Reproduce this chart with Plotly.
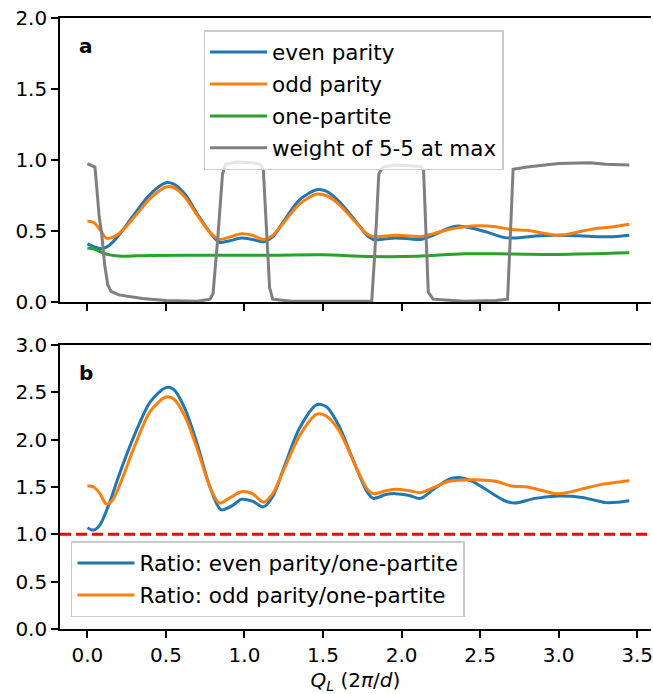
import plotly.graph_objects as go

# ---------------- data ----------------
q_even = [0.00, 0.04, 0.09, 0.14, 0.20, 0.30, 0.40, 0.50, 0.55, 0.62, 0.70, 0.78, 0.84, 0.90, 0.98, 1.05,
          1.12, 1.18, 1.25, 1.35, 1.46, 1.52, 1.60, 1.70, 1.78, 1.82, 1.90, 1.96, 2.05, 2.12, 2.20, 2.30,
          2.36, 2.45, 2.55, 2.65, 2.72, 2.85, 3.00, 3.15, 3.25, 3.35, 3.45]
even_parity = [0.41, 0.39, 0.375, 0.40, 0.47, 0.62, 0.76, 0.84, 0.83, 0.76, 0.62, 0.49, 0.42, 0.43, 0.45, 0.44,
               0.425, 0.46, 0.57, 0.72, 0.79, 0.78, 0.71, 0.58, 0.47, 0.44, 0.445, 0.45, 0.445, 0.44, 0.47, 0.52,
               0.535, 0.52, 0.49, 0.455, 0.45, 0.465, 0.47, 0.465, 0.46, 0.46, 0.47]

q_odd = [0.00, 0.04, 0.08, 0.12, 0.16, 0.22, 0.30, 0.40, 0.50, 0.55, 0.62, 0.70, 0.78, 0.84, 0.90, 0.98,
         1.05, 1.12, 1.18, 1.25, 1.35, 1.46, 1.52, 1.60, 1.70, 1.78, 1.82, 1.90, 1.96, 2.05, 2.12, 2.20,
         2.30, 2.40, 2.50, 2.60, 2.70, 2.80, 2.90, 2.98, 3.05, 3.15, 3.25, 3.35, 3.45]
odd_parity = [0.57, 0.56, 0.51, 0.45, 0.455, 0.50, 0.60, 0.73, 0.81, 0.805, 0.74, 0.61, 0.49, 0.44, 0.455, 0.48,
              0.47, 0.44, 0.47, 0.56, 0.69, 0.76, 0.75, 0.69, 0.57, 0.48, 0.46, 0.465, 0.47, 0.465, 0.46, 0.48,
              0.51, 0.53, 0.537, 0.53, 0.51, 0.505, 0.485, 0.47, 0.475, 0.50, 0.52, 0.53, 0.547]

q_one = [0.00, 0.05, 0.10, 0.15, 0.22, 0.40, 0.80, 1.20, 1.50, 1.80, 2.10, 2.40, 2.70, 3.00, 3.45]
one_partite = [0.38, 0.37, 0.345, 0.33, 0.323, 0.328, 0.33, 0.33, 0.332, 0.32, 0.322, 0.34, 0.338, 0.335, 0.346]

q_weight = [0.00, 0.037, 0.048, 0.06, 0.075, 0.09, 0.11, 0.13, 0.15, 0.20, 0.25, 0.35, 0.50, 0.70, 0.78,
            0.80, 0.83, 0.86, 0.88, 0.95, 1.05, 1.10, 1.12, 1.14, 1.16, 1.18, 1.30, 1.60, 1.81, 1.83,
            1.855, 1.88, 1.95, 2.05, 2.12, 2.14, 2.155, 2.17, 2.20, 2.40, 2.60, 2.675, 2.69, 2.71, 2.80,
            3.00, 3.20, 3.30, 3.45]
weight_55 = [0.975, 0.96, 0.95, 0.80, 0.60, 0.49, 0.26, 0.12, 0.075, 0.05, 0.04, 0.025, 0.01, 0.005, 0.02,
             0.06, 0.45, 0.90, 0.97, 0.985, 0.98, 0.97, 0.93, 0.50, 0.10, 0.02, 0.005, 0.005, 0.005, 0.35,
             0.90, 0.95, 0.965, 0.96, 0.955, 0.93, 0.50, 0.07, 0.02, 0.005, 0.01, 0.02, 0.40, 0.935, 0.95,
             0.975, 0.98, 0.97, 0.965]

q_r_even = [0.00, 0.04, 0.08, 0.14, 0.20, 0.30, 0.40, 0.50, 0.55, 0.62, 0.70, 0.78, 0.85, 0.92, 0.98, 1.05,
            1.12, 1.18, 1.25, 1.35, 1.46, 1.52, 1.60, 1.70, 1.78, 1.82, 1.90, 1.96, 2.05, 2.12, 2.20, 2.30,
            2.36, 2.45, 2.55, 2.65, 2.72, 2.85, 3.00, 3.15, 3.30, 3.38, 3.45]
ratio_even = [1.07, 1.045, 1.10, 1.33, 1.62, 2.05, 2.40, 2.55, 2.53, 2.33, 1.95, 1.50, 1.26, 1.30, 1.37, 1.35,
              1.29, 1.40, 1.70, 2.12, 2.37, 2.35, 2.15, 1.75, 1.45, 1.38, 1.42, 1.43, 1.41, 1.38, 1.47, 1.58,
              1.60, 1.56, 1.46, 1.36, 1.33, 1.38, 1.405, 1.39, 1.335, 1.34, 1.355]

q_r_odd = [0.00, 0.04, 0.08, 0.12, 0.16, 0.22, 0.30, 0.40, 0.50, 0.55, 0.62, 0.70, 0.78, 0.84, 0.90, 0.98,
           1.05, 1.12, 1.18, 1.25, 1.35, 1.46, 1.52, 1.60, 1.70, 1.78, 1.82, 1.90, 1.96, 2.05, 2.12, 2.20,
           2.30, 2.40, 2.50, 2.60, 2.70, 2.80, 2.90, 2.98, 3.05, 3.15, 3.25, 3.35, 3.45]
ratio_odd = [1.51, 1.50, 1.43, 1.32, 1.36, 1.58, 1.93, 2.30, 2.45, 2.43, 2.25, 1.90, 1.50, 1.33, 1.38, 1.45,
             1.43, 1.34, 1.43, 1.68, 2.04, 2.27, 2.25, 2.10, 1.75, 1.48, 1.43, 1.46, 1.475, 1.46, 1.44, 1.49,
             1.56, 1.575, 1.575, 1.56, 1.51, 1.50, 1.46, 1.43, 1.44, 1.48, 1.52, 1.545, 1.565]

reference_level = 1.0
x_ticks = [0.0, 0.5, 1.0, 1.5, 2.0, 2.5, 3.0, 3.5]
y_ticks_top = [0.0, 0.5, 1.0, 1.5, 2.0]
y_ticks_bottom = [0.0, 0.5, 1.0, 1.5, 2.0, 2.5, 3.0]

# ---------------- styling ----------------
FONT = "DejaVu Sans"
BLUE, ORANGE, GREEN, GRAY = "#1f77b4", "#ff7f0e", "#2ca02c", "#7f7f7f"
LW = 3

fig = go.Figure()

def add(x, y, name, color, xa, ya, legend, group, shape="spline"):
    fig.add_trace(go.Scatter(
        x=x, y=y, name=name, mode="lines",
        line=dict(color=color, width=LW, shape=shape, smoothing=0.8 if shape == "spline" else None),
        xaxis=xa, yaxis=ya, legend=legend, legendgroup=group,
    ))

add(q_even, even_parity, "even parity", BLUE, "x", "y", "legend", "g1")
add(q_odd, odd_parity, "odd parity", ORANGE, "x", "y", "legend", "g2")
add(q_one, one_partite, "one-partite", GREEN, "x", "y", "legend", "g3")
add(q_weight, weight_55, "weight of 5-5 at max", GRAY, "x", "y", "legend", "g4", shape="linear")
add(q_r_even, ratio_even, "Ratio: even parity/one-partite", BLUE, "x2", "y2", "legend2", "h1")
add(q_r_odd, ratio_odd, "Ratio: odd parity/one-partite", ORANGE, "x2", "y2", "legend2", "h2")

W, H = 653, 694
L, R, T, B = 60, 0, 18, 65
ph = H - T - B
pan = 284
top_dom = [(ph - pan) / ph, 1.0]
bot_dom = [0.0, pan / ph]

x_range = [-0.1745, 3.588]

axis_common = dict(
    showline=True, linecolor="black", linewidth=1.6,
    ticks="outside", ticklen=7, tickwidth=1.6, tickcolor="black",
    showgrid=False, zeroline=False, ticklabeloverflow="allow",
    tickfont=dict(family=FONT, size=20, color="black"),
)

legend_common = dict(
    font=dict(family=FONT, size=21.5, color="black"),
    bgcolor="rgba(255,255,255,0.8)", bordercolor="#cccccc", borderwidth=1.5,
    traceorder="grouped", tracegroupgap=1, itemwidth=57,
)

fig.update_layout(
    width=W, height=H,
    margin=dict(l=L, r=R, t=T, b=B, pad=0),
    paper_bgcolor="white", plot_bgcolor="white",
    font=dict(family=FONT, size=20, color="black"),
    xaxis=dict(domain=[0, 1], range=x_range, anchor="y", mirror=True, tickvals=x_ticks,
               showticklabels=False, matches="x2", **axis_common),
    yaxis=dict(domain=top_dom, range=[0, 2.0], anchor="x", tickvals=y_ticks_top,
               tickformat=".1f", **axis_common),
    xaxis2=dict(domain=[0, 1], range=x_range, anchor="y2", mirror=True, tickvals=x_ticks,
                tickformat=".1f",
                title=dict(text="<i>Q</i><sub><i>L</i></sub> (2<i>π</i>/<i>d</i>)",
                           font=dict(family=FONT, size=20, color="black"), standoff=8),
                **axis_common),
    yaxis2=dict(domain=bot_dom, range=[0, 3.0], anchor="x2", tickvals=y_ticks_bottom,
                tickformat=".1f", **axis_common),
    legend=dict(x=(204 - L) / (W - L), y=(H - B - 30) / ph, xanchor="left", yanchor="top",
                **legend_common),
    legend2=dict(x=(71 - L) / (W - L), y=(629 - 617) / ph, xanchor="left", yanchor="bottom",
                 **legend_common),
    shapes=[dict(type="line", xref="x2 domain", yref="y2", x0=0, x1=1,
                 y0=reference_level, y1=reference_level,
                 line=dict(color="red", width=3, dash="11px,5px"))],
    annotations=[
        dict(text="<b>a</b>", xref="x domain", yref="y domain", x=0.0287, y=0.90,
             xanchor="left", yanchor="middle", showarrow=False,
             font=dict(family=FONT, size=20, color="black")),
        dict(text="<b>b</b>", xref="x2 domain", yref="y2 domain", x=0.0287, y=0.90,
             xanchor="left", yanchor="middle", showarrow=False,
             font=dict(family=FONT, size=20, color="black")),
    ],
)

fig.write_html("out.html")
